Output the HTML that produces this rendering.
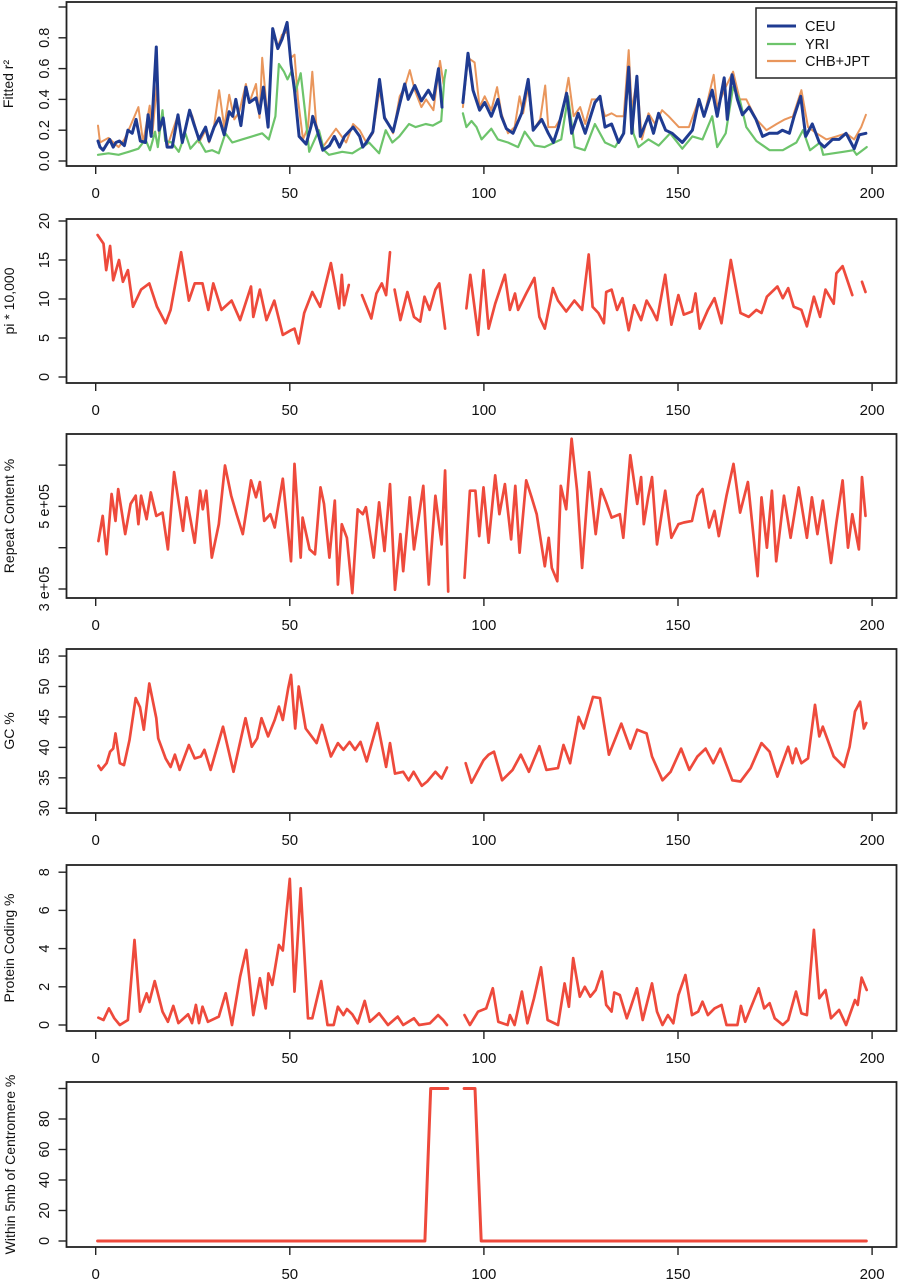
<!DOCTYPE html>
<html><head><meta charset="utf-8"><style>
html,body{margin:0;padding:0;background:#fff;}
svg{display:block;font-family:"Liberation Sans",sans-serif;}
</style></head><body>
<svg id="fig" width="900" height="1280" viewBox="0 0 900 1280"></svg>
<script>
// ---- Panel 1: fitted r2 ----
const ceuX=[0.6,1.1,1.9,3.6,4.5,5.2,6.1,7.4,8.3,9.4,10.4,11.5,12.8,13.5,14.3,15.6,16.3,17.4,18.4,19.7,21.2,22.3,24.2,25.3,26.6,28.3,29.2,30.5,31.8,33.1,34.4,35.3,36.1,37.4,38.7,39.6,41.3,42.2,43.2,44.4,45.6,46.9,48,49.3,50.3,51.2,52.4,54.2,55.5,55.9,56.8,58.5,60.2,61.5,62.8,64.1,66.3,68,68.8,69.7,71.4,73.1,74.4,76.6,78.3,79.6,80.5,82.2,83.9,85.7,87,88.3,89.2,null,94.6,95.9,97.2,98.9,100.2,101.9,103.6,104.5,105.8,107.5,109.7,111.4,112.7,114.9,116.6,117.9,119.2,121.3,122.6,124.3,126.1,128.6,129.9,131.2,132.9,134.7,136,137.3,138.1,139.4,140.3,142.4,143.7,145,146.8,148.5,151.1,153.7,155.4,156.7,158.8,160.1,161.9,162.7,163.9,165.3,166.6,168.3,170.1,171.8,173.5,175.6,176.9,178.7,179.9,181.6,182.9,184.6,186.4,187.7,189.8,191.5,193.3,195.4,196.7,198.4];
const ceuY=[0.13,0.09,0.07,0.14,0.09,0.12,0.13,0.10,0.20,0.18,0.27,0.13,0.12,0.30,0.16,0.74,0.20,0.28,0.09,0.09,0.30,0.12,0.33,0.24,0.14,0.22,0.13,0.22,0.28,0.17,0.32,0.29,0.40,0.23,0.48,0.38,0.41,0.31,0.48,0.22,0.86,0.73,0.79,0.90,0.63,0.46,0.16,0.11,0.23,0.29,0.22,0.07,0.10,0.16,0.09,0.16,0.22,0.16,0.09,0.12,0.19,0.53,0.28,0.19,0.37,0.50,0.40,0.49,0.39,0.46,0.40,0.60,0.35,null,0.38,0.70,0.46,0.33,0.38,0.29,0.40,0.29,0.21,0.18,0.31,0.53,0.20,0.27,0.18,0.12,0.22,0.44,0.18,0.31,0.18,0.38,0.42,0.22,0.24,0.12,0.18,0.61,0.18,0.55,0.16,0.29,0.18,0.31,0.20,0.18,0.12,0.20,0.40,0.29,0.46,0.29,0.54,0.27,0.56,0.40,0.30,0.35,0.27,0.16,0.18,0.18,0.20,0.18,0.29,0.42,0.16,0.24,0.12,0.09,0.14,0.14,0.18,0.08,0.17,0.18];
const yriX=[0.6,3.3,5.9,8.5,11,12.8,14,15.3,16,17.2,17.9,19.6,21.4,23.1,24.4,26.5,28.3,30,31.7,33.4,35.2,37.7,40.3,42.9,44.6,46.3,47.2,48.5,49.4,50.6,51.5,52.8,53.9,55,57.5,58.8,60.1,63.5,66.1,68.7,70.4,73,74.7,76.4,78.2,80.7,82.4,85,86.8,89,89.8,90.2,null,94.6,95.5,96.8,98.1,99.4,101.9,103.6,106.2,108.8,110.5,113.1,115.6,118.2,119.9,121.7,123.4,126,128.6,131.2,133.8,135.9,137.3,138.5,139.8,142.4,145,148,151.1,153.7,156.3,158.8,160.1,162.3,164.2,165.9,167.6,170.2,173.6,177,180.5,182.2,184,186.6,187.4,190,192.6,195.2,196,198.6];
const yriY=[0.04,0.05,0.04,0.06,0.08,0.14,0.07,0.19,0.09,0.33,0.13,0.12,0.06,0.18,0.08,0.14,0.06,0.07,0.05,0.18,0.12,0.14,0.16,0.18,0.14,0.29,0.63,0.58,0.53,0.59,0.45,0.57,0.33,0.06,0.20,0.07,0.04,0.06,0.05,0.09,0.12,0.05,0.20,0.12,0.16,0.24,0.22,0.24,0.23,0.26,0.53,0.59,null,0.31,0.22,0.26,0.22,0.14,0.21,0.14,0.12,0.09,0.19,0.10,0.09,0.12,0.14,0.42,0.09,0.07,0.24,0.12,0.09,0.18,0.55,0.18,0.09,0.14,0.10,0.18,0.08,0.16,0.14,0.29,0.09,0.18,0.48,0.40,0.22,0.13,0.07,0.07,0.12,0.20,0.07,0.12,0.04,0.05,0.06,0.07,0.04,0.09];
const chbX=[0.6,1.1,3.3,5.9,7.4,8.8,11,12.2,13.9,14.6,15.8,16.3,17.4,18.4,21.2,22.3,24.2,24.9,25.8,26.6,28.3,29.2,30.5,31.8,33.1,34.4,35.7,37,38.7,39.6,41.3,42.2,42.9,44.4,45.6,46.9,48,49.3,50.3,51.2,52.1,53.4,54.7,55.8,56.8,58.5,61.9,64.5,66.3,68,69.7,71.4,73.1,74.4,76.6,78.3,79.6,80.9,82.2,83.9,85.1,87,88.7,89.6,null,94.6,95.9,97.6,98.9,100.2,101.9,103.4,104.5,106.2,107.9,109.2,110.1,111.4,112.7,114.5,115.8,116.6,118.4,120.1,121.8,123.1,124.8,126.1,127.8,129.9,131.2,132.9,134.2,136,137.3,138.1,139.4,140.7,142.4,144.1,145.9,147.6,150.2,152.8,155.4,156.7,159.2,160.1,162.3,164.2,165.9,167.6,170.2,172.8,175.4,177.5,179.6,181.8,183.5,185.7,188.2,190.8,193.3,195.4,197.2,198.4];
const chbY=[0.23,0.12,0.15,0.09,0.14,0.22,0.35,0.12,0.36,0.18,0.50,0.18,0.27,0.09,0.30,0.12,0.33,0.29,0.21,0.12,0.20,0.12,0.23,0.46,0.22,0.43,0.27,0.32,0.50,0.38,0.50,0.28,0.67,0.24,0.83,0.74,0.82,0.84,0.67,0.69,0.40,0.14,0.22,0.58,0.24,0.09,0.21,0.12,0.24,0.20,0.12,0.18,0.46,0.29,0.18,0.42,0.48,0.59,0.46,0.35,0.40,0.33,0.65,0.50,null,0.35,0.67,0.64,0.35,0.42,0.33,0.48,0.31,0.18,0.22,0.42,0.31,0.48,0.20,0.27,0.49,0.22,0.22,0.29,0.54,0.29,0.35,0.24,0.40,0.40,0.29,0.31,0.29,0.29,0.72,0.33,0.53,0.14,0.31,0.24,0.33,0.29,0.22,0.22,0.40,0.29,0.56,0.35,0.48,0.58,0.40,0.40,0.27,0.20,0.24,0.27,0.29,0.46,0.22,0.18,0.14,0.16,0.18,0.14,0.22,0.30];
// ---- Panel 2: pi ----
const piX=[0.5,2,2.7,3.7,4.5,6,7,8.3,9.6,11.7,13.8,15.8,18,19.3,22,24,25.5,27.5,29,30.3,32.4,35,37.2,40,40.6,42.3,44,46,48.2,50.3,51.2,52.3,53.7,55.8,57.8,60.6,62.7,63.4,64,65.2,null,68.6,71,72.3,73.7,74.8,75.8,null,77,78.5,80.3,82,83.6,84.7,86,87.5,88.5,90,null,95.5,96.5,98.5,99.9,101.2,102.9,105.4,106.7,108,108.8,110.9,113,114.3,115.7,117.8,119.1,121.2,123.3,125.3,127,128,129.5,130.9,131.5,132.9,134.3,135.7,137.3,138.7,140.5,141.9,143.3,144.6,146.7,148.3,150.1,151.5,153.6,154.5,155.6,157.7,159.4,161.2,163.6,166.1,168.2,170.2,171.5,172.9,175.6,177,178.4,179.8,181.8,183.2,185,186.6,188,190.1,190.8,192.4,194.9,null,197.4,198.3];
const piY=[18.2,17.1,13.7,16.8,12.4,15.0,12.2,13.7,9.0,11.2,12.0,9.0,6.9,8.6,16.0,9.8,12.0,12.0,8.6,12.0,8.6,9.8,7.3,11.6,7.7,11.2,7.3,9.8,5.4,6.0,6.2,4.3,8.2,10.9,9.0,14.6,8.8,13.1,9.2,11.8,null,10.5,7.5,10.7,12.0,10.5,16.0,null,11.2,7.3,10.9,7.7,7.1,10.3,8.6,11.2,12.0,6.2,null,8.8,13.1,5.4,13.7,6.2,9.4,13.1,8.6,10.7,8.6,10.7,12.7,7.7,6.2,11.4,9.8,8.4,9.8,8.6,15.7,9.0,8.2,6.9,10.9,11.2,8.6,10.1,6.0,9.2,7.3,9.8,8.6,7.3,13.1,6.7,10.5,8.0,8.4,10.7,6.2,8.6,10.1,6.9,15.0,8.2,7.7,8.6,8.2,10.3,11.6,10.1,11.4,9.0,8.6,6.5,10.3,7.7,11.2,9.4,13.3,14.2,10.5,null,12.2,10.9];
// ---- Panel 3: repeat content (units of 1e5) ----
const repX=[0.7,1.8,2.8,4.1,5.1,5.8,7.6,9,10.3,11,11.7,13.1,14.2,15.6,17.2,18.6,20.2,22.5,23.4,25.5,26.9,27.6,28.5,29.9,31.7,33.3,34.9,36.3,37.9,40,41.3,42.3,43.4,45,46.1,48.2,50.3,51.2,52.8,53.3,55.1,56.5,57.9,58.8,60.2,61.6,62.4,63.4,64.7,66.1,67.5,68.8,69.6,71.6,73,74.4,75.8,77.1,78.5,79.2,80.9,82,84.4,85.8,87.5,89.1,90,90.8,null,95,96.4,97.8,98.8,99.9,101.2,102.9,104,105.4,107,108.1,109.2,110.9,112.3,113.6,115.7,116.7,117.5,118.9,119.8,121.2,122.6,124,125.3,127.1,128.8,130.2,131.5,132.9,135,135.9,137.7,139.5,140.5,141.2,142.3,143.3,144.6,146.7,148.3,150.1,151.5,153.6,155,156.3,158,159.4,160.5,162.5,164.3,166,168,169.4,170.5,171.5,172.9,174.2,175.3,177.3,179,181.1,183.2,184.5,185.9,187.3,189.4,190.8,192.4,193.8,194.9,196.6,197.4,198.3];
const repY=[4.16,4.77,3.84,5.3,4.65,5.42,4.33,5.06,5.26,4.57,5.26,4.69,5.34,4.77,4.85,3.96,5.83,4.41,5.22,4.12,5.38,4.93,5.38,3.76,4.57,5.99,5.26,4.81,4.33,5.63,5.22,5.59,4.65,4.81,4.49,5.67,3.67,6.03,3.76,4.73,3.96,3.84,5.46,5.06,3.76,5.14,3.11,4.57,4.24,2.9,4.93,4.81,4.98,3.76,5.1,3.92,5.54,2.98,4.33,3.43,5.22,3.96,5.5,3.11,5.26,4.08,5.87,2.94,null,3.27,5.38,5.38,4.28,5.46,4.12,5.75,4.81,5.54,4.2,5.5,3.88,5.63,5.22,4.81,3.55,4.24,3.51,3.19,5.5,4.93,6.64,5.38,3.51,5.83,4.33,5.42,5.1,4.73,4.81,4.24,6.24,5.06,5.71,4.57,5.22,5.71,4.08,5.38,4.24,4.57,4.61,4.65,5.26,5.42,4.49,4.89,4.28,5.26,6.03,4.85,5.59,4.33,3.31,5.22,4.0,5.38,3.67,5.26,4.24,5.46,4.24,5.22,4.33,5.14,3.63,4.61,5.63,4.0,4.81,3.96,5.71,4.77];
// ---- Panel 4: GC % ----
const gcX=[0.7,1.4,2.8,3.7,4.5,5.1,6.2,7.3,8.7,10.3,11.4,12.4,13.8,15.6,16.1,18,19.3,20.4,21.6,24,25.5,27.1,28,29.6,32.8,35.5,38.6,40.2,41.6,42.7,44.4,46.1,47.2,48.2,49.6,50.3,51.4,52.3,54.1,56.9,58.3,60.6,62.4,63.8,65.4,66.8,68.2,69.8,72.6,74.8,75.8,77.1,79.2,80.6,81.9,84,85.4,87.5,89.1,90.5,null,95.3,96.8,99.9,101.2,102.6,104.7,107.4,109.5,111.6,114.3,116.1,119.1,120.5,122.2,124.4,125.7,128.1,129.9,132.2,135.4,137.7,139.5,141.9,143.3,146,148.1,150.8,152.9,155,157.1,159.1,160.9,164,166.1,168.7,171.5,173.6,175.6,178.4,179.5,180.4,181.8,183.5,185.3,186.4,187.3,190.1,192.8,194.2,195.6,196.9,197.9,198.5];
const gcY=[37.0,36.3,37.4,39.3,39.8,42.3,37.4,37.1,41.2,48.1,46.6,42.9,50.5,44.8,41.5,38.2,36.8,38.8,36.3,40.4,38.2,38.5,39.6,36.3,43.4,36.0,44.8,40.1,41.5,44.8,41.8,44.5,46.7,44.5,49.7,51.9,43.1,50.0,43.1,40.7,43.7,38.5,40.7,39.6,40.9,39.6,40.9,37.7,44.0,36.8,40.7,35.7,36.0,34.6,36.0,33.7,34.4,36.0,34.9,36.7,null,37.4,34.2,37.9,38.8,39.3,34.6,36.3,38.8,36.0,40.2,36.3,36.6,40.4,37.4,45.0,43.1,48.3,48.1,38.8,43.9,39.8,42.9,42.3,38.5,34.6,36.0,39.8,36.3,38.5,39.8,37.4,39.8,34.6,34.4,36.6,40.7,39.3,35.2,40.1,37.4,39.8,37.4,38.2,47.0,41.8,43.4,38.5,36.8,40.1,45.9,47.5,43.1,44.0];
// ---- Panel 5: protein coding % ----
const pcX=[0.7,2,3.4,4.8,6.2,8.3,10,11.4,13.1,13.8,15.2,17.2,18.6,20,21.3,23.8,24.8,25.8,26.6,27.5,28.9,31.7,33.5,35.1,37.2,38.8,40.6,42.3,43.8,44.5,45.5,47.2,48.2,50,51.2,52.8,54.7,55.8,58.1,59.7,61.3,62.4,63.8,64.7,66.1,67.5,69.3,70.6,73,75.3,77.8,79.2,82,83.3,86.1,88.2,89.5,90.5,null,95,96.4,98.5,100.6,102.3,103.7,106.1,106.7,107.9,109.8,111.2,112.9,114.7,116.4,119.1,120.8,121.9,123,124.7,126,127.4,128.8,130.4,131.5,132.9,133.6,135,136.8,137.7,139.4,140.9,143.3,144.6,146,147.4,148.8,150.1,151.9,153.6,155.2,156.3,157.7,159.4,161.2,162.5,165.3,166.2,167.3,168.7,170.8,172.2,173.6,174.9,177,178.4,180.4,181.8,183.2,185,186.4,188,189.4,191.5,193.3,195.6,196.3,197.3,198.6];
const pcY=[0.38,0.26,0.87,0.35,0,0.26,4.45,0.7,1.66,1.2,2.3,0.7,0.17,1.0,0.1,0.56,0.1,1.05,0.1,0.96,0.17,0.44,1.66,0,2.53,3.93,0.52,2.45,0.87,2.7,2.1,4.19,3.9,7.65,1.75,7.16,0.35,0.35,2.3,0,0,0.96,0.52,0.84,0.56,0.09,1.26,0.17,0.61,0,0.44,0,0.35,0,0.09,0.52,0.26,0,null,0.52,0,0.7,0.87,1.92,0.17,0,0.52,0,1.75,0.09,1.4,3.02,0.26,0,2.18,0.96,3.5,1.48,2.0,1.48,1.83,2.8,1.05,0.7,1.7,1.57,0.35,0.87,1.92,0.26,2.18,0.7,0,0.52,0.09,1.57,2.62,0.52,0.7,1.22,0.52,0.87,1.05,0,0,1.0,0.17,0.87,1.92,0.87,1.14,0.35,0,0.26,1.75,0.61,0.52,4.98,1.4,1.83,0.35,0.79,0,1.31,1.05,2.48,1.83];
// ---- Panel 6: within 5mb of centromere % ----
const cenX=[0.5,84.8,86.3,90.7,null,94.9,97.7,99.3,198.5];
const cenY=[0,0,100,100,null,100,100,0,0];
// ---- axis tick labels ----
const xTicks=[0,50,100,150,200];
const p1Ticks=[0,0.2,0.4,0.6,0.8,1.0];
const p1Labels=["0.0","0.2","0.4","0.6","0.8",""];
const p2Ticks=[0,5,10,15,20];
const p3Ticks=[3,4,5,6];
const p3Labels=["3 e+05","","5 e+05",""];
const p4Ticks=[30,35,40,45,50,55];
const p5Ticks=[0,2,4,6,8];
const p6Ticks=[0,20,40,60,80,100];
const p6Labels=["0","20","40","60","80",""];

const NS="http://www.w3.org/2000/svg";
const svg=document.getElementById('fig');
const L=66.5,R=896.5;
function xs(v){return 95.7+3.882*v;}
function mk(tag,attrs,parent){const e=document.createElementNS(NS,tag);for(const k in attrs)e.setAttribute(k,attrs[k]);(parent||svg).appendChild(e);return e;}

function panel(id,top,bot,ys,ticks,labels,title,titleX){
  const g=mk('g',{});
  
  
  const box=mk('rect',{x:L,y:top,width:R-L,height:bot-top,fill:'none',stroke:'#222','stroke-width':1.8},g);
  
  
  ticks.forEach((t,i)=>{
    const y=ys(t);
    const tk=mk('line',{x1:L-8,x2:L,y1:y,y2:y,stroke:'#222','stroke-width':1.4},g);
    
    
    if(labels[i]!==""){
      const tx=mk('text',{x:0,y:0,'font-size':14.5,'text-anchor':'middle',fill:'#111',transform:`translate(49,${y}) rotate(-90)`},g);
      tx.textContent=labels[i];
      
      
    }
  });
  xTicks.forEach(t=>{
    const x=xs(t);
    const tk=mk('line',{x1:x,x2:x,y1:bot,y2:bot+8,stroke:'#222','stroke-width':1.4},g);
    
    
    const tx=mk('text',{x:x,y:bot+32,'font-size':15,'text-anchor':'middle',fill:'#111'},g);
    tx.textContent=String(t);
    
    
  });
  const ti=mk('text',{x:0,y:0,'font-size':14,'text-anchor':'middle',fill:'#111',transform:`translate(${titleX},${(top+bot)/2}) rotate(-90)`},g);
  ti.textContent=title;
  
  
  return g;
}
function series(g,name,X,Y,ys,color,w){
  let d='',pen=false;
  for(let i=0;i<X.length;i++){
    if(X[i]===null||Y[i]===null){pen=false;continue;}
    d+=(pen?'L':'M')+xs(X[i]).toFixed(1)+' '+ys(Y[i]).toFixed(1)+' ';pen=true;
  }
  const p=mk('path',{d:d,fill:'none',stroke:color,'stroke-width':w,'stroke-linejoin':'round','stroke-linecap':'round'},g);
  
  
}
const RED='#ee4a3c';
// Panel 1
const y1=v=>161-154*v;
const g1=panel('fitted-r2',2,166,y1,p1Ticks,p1Labels,'Fitted r²',13);
series(g1,'chb-jpt-line',chbX,chbY,y1,'#e9965c',2);
series(g1,'yri-line',yriX,yriY,y1,'#6dc46b',2.2);
series(g1,'ceu-line',ceuX,ceuY,y1,'#1f3b91',3);
// legend
const lg=mk('g',{});


mk('rect',{x:756,y:8,width:140,height:70,fill:'#fff',stroke:'#222','stroke-width':1.5},lg);
[['CEU','#1f3b91',26,3],['YRI','#6dc46b',44,2.2],['CHB+JPT','#e9965c',61,2.2]].forEach(e=>{
  const le=mk('g',{},lg);
  
  
  mk('line',{x1:767,x2:796,y1:e[2],y2:e[2],stroke:e[1],'stroke-width':e[3]},le);
  const t=mk('text',{x:805,y:e[2]+5,'font-size':14.5,fill:'#111'},le);t.textContent=e[0];
});
// Panel 2
const y2=v=>377-7.8*v;
const g2=panel('pi',219,383,y2,p2Ticks,p2Ticks.map(String),'pi  * 10,000',14);
series(g2,'pi-line',piX,piY,y2,RED,2.7);
// Panel 3
const y3=v=>589-41.3*(v-3);
const g3=panel('repeat-content',434,598,y3,p3Ticks,p3Labels,'Repeat Content %',14);
series(g3,'repeat-content-line',repX,repY,y3,RED,2.7);
// Panel 4
const y4=v=>808.3-6.09*(v-30);
const g4=panel('gc',649,813,y4,p4Ticks,p4Ticks.map(String),'GC %',14);
series(g4,'gc-line',gcX,gcY,y4,RED,2.7);
// Panel 5
const y5=v=>1025-19.1*v;
const g5=panel('protein-coding',865,1031,y5,p5Ticks,p5Ticks.map(String),'Protein Coding %',14);
series(g5,'protein-coding-line',pcX,pcY,y5,RED,2.7);
// Panel 6
const y6=v=>1241-1.525*v;
const g6=panel('centromere',1082,1247,y6,p6Ticks,p6Labels,'Within 5mb of Centromere %',15);
series(g6,'centromere-line',cenX,cenY,y6,RED,3);
</script>
</body></html>
